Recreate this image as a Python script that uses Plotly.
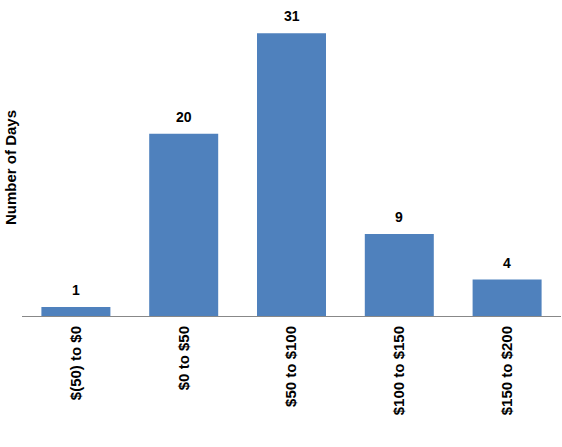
import plotly.graph_objects as go

categories = ["$(50) to $0", "$0 to $50", "$50 to $100", "$100 to $150", "$150 to $200"]
days = [1, 20, 31, 9, 4]

FONT = "Liberation Sans, Arial"

fig = go.Figure()
fig.add_trace(go.Bar(x=categories, y=days, marker=dict(color="#4F81BD", line=dict(width=0)),
                     cliponaxis=False, hoverinfo="skip"))

for c, v in zip(categories, days):
    fig.add_annotation(x=c, y=v, text=f"<b>{v}</b>", showarrow=False, yanchor="bottom",
                       yshift=7, font=dict(family=FONT, size=14, color="black"))

fig.add_annotation(xref="paper", yref="paper", x=-12/539, y=(316-168)/310, text="<b>Number of Days</b>",
                   textangle=-90, showarrow=False, xanchor="center", yanchor="middle",
                   font=dict(family=FONT, size=15, color="black"))

fig.update_layout(
    width=562, height=447,
    margin=dict(l=22, r=1, t=6, b=131),
    paper_bgcolor="white", plot_bgcolor="white",
    bargap=0.36, showlegend=False,
    font=dict(family=FONT, size=15, color="black"),
)
fig.update_xaxes(showline=True, linecolor="#888888", linewidth=1, tickangle=-90,
                 ticks="", ticklabelstandoff=3,
                 tickfont=dict(family=FONT, size=15, color="black", weight="bold"))
fig.update_yaxes(range=[0, 34], showgrid=False, showticklabels=False, zeroline=False, showline=False)

fig.write_html("out.html", config={"displayModeBar": False},
               post_script="document.body.style.margin='0';document.body.style.overflow='hidden';")
